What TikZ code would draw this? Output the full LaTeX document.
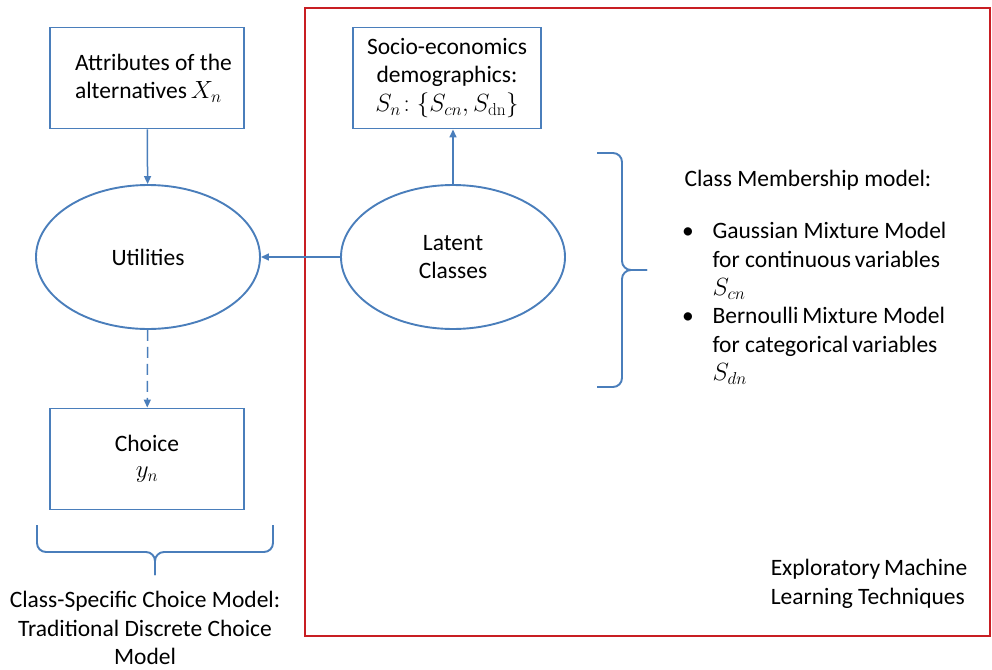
\documentclass[tikz,border=0pt]{standalone}
\usepackage[no-math]{fontspec}
\setmainfont{Carlito}
\usetikzlibrary{arrows.meta, positioning, shapes.geometric}
\definecolor{lineblue}{RGB}{74,126,187}
\definecolor{framered}{RGB}{200,30,35}

\tikzset{
  box/.style={draw=lineblue, line width=1.9pt, minimum width=194pt, minimum height=101pt, inner sep=0pt, align=center},
  oval/.style={ellipse, draw=lineblue, line width=1.9pt, minimum width=224pt, minimum height=144pt, inner sep=0pt, align=center},
  link/.style={draw=lineblue, line width=1.5pt, -{Triangle[length=8pt,width=7pt]}},
  bracepath/.style={draw=lineblue, line width=1.9pt, rounded corners=9pt},
  txt/.style={font=\fontsize{23.5}{28.5}\selectfont}
}

\begin{document}
\begin{tikzpicture}[x=1pt, y=-1pt, txt]
  \useasboundingbox (0,0) rectangle (992,669);

  % frame of the exploratory part
  \draw[framered, line width=1.9pt] (305,8) rectangle (990,636);

  \node[box, align=left] (attr) at (147,78) {\hspace*{13pt}Attributes of the\\\hspace*{13pt}alternatives\,$X_n$};
  \node[oval] (util) at (148,257) {Utilities};
  \node[box] (choice) at (147,459) {Choice\\[-2pt]$y_n$};
  \node[oval] (latent) at (453,257) {Latent\\Classes};
  \node[box, minimum width=188pt] (socio) at (447,78) {Socio-economics\\demographics:\\$S_n\!: \{S_{cn}, S_{\mathrm{dn}}\}$};

  \draw[link] (attr) -- (util);
  \draw[link, dashed, dash pattern=on 11pt off 6pt] (util) -- (choice);
  \draw[link] (latent) -- (util);
  \draw[link] (latent.north) -- (latent.north |- socio.south);

  % braces
  \coordinate (btip) at (155,575);
  \draw[bracepath] (37,525) -- (37,552) -- (155,552) -- (btip);
  \draw[bracepath] (273,525) -- (273,552) -- (155,552) -- (btip);
  \coordinate (rtip) at (647,270);
  \draw[bracepath] (597,153) -- (622,153) -- (622,270) -- (rtip);
  \draw[bracepath] (597,387) -- (622,387) -- (622,270) -- (rtip);

  \node[align=center] (cscm) at (145,628) {Class-Specific Choice Model:\\Traditional Discrete Choice\\Model};

  \node[anchor=west] (cmm) at (681,180) {Class Membership model:};
  \node (bul1) at (688,233) {\textbullet};
  \node[anchor=west, align=left] (gmm) at (709,261) {Gaussian Mixture Model\\for continuous\,variables\\$S_{cn}$};
  \node (bul2) at (688,318) {\textbullet};
  \node[anchor=west, align=left] (bmm) at (709,346) {Bernoulli\,Mixture Model\\for categorical\,variables\\$S_{dn}$};

  \node[align=left] (eml) at (869,584) {Exploratory\,Machine\\Learning Techniques};
\end{tikzpicture}
\end{document}
